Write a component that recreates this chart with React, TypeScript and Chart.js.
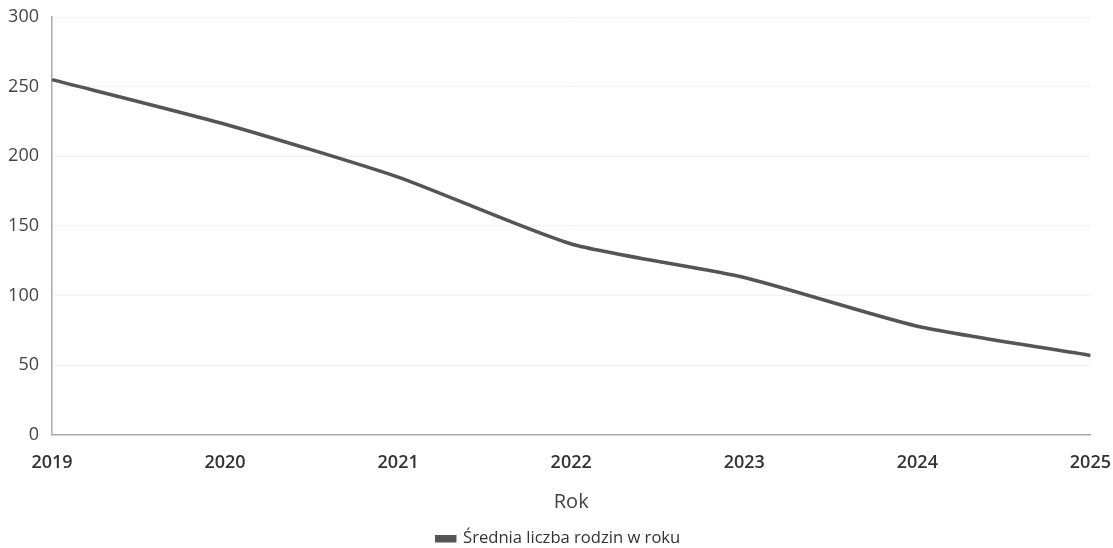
import React, { useEffect, useRef } from "react";
import { Chart, registerables } from "chart.js";

Chart.register(...registerables);

const years = ["2019", "2020", "2021", "2022", "2023", "2024", "2025"];
const averageFamilies = [255, 223, 185, 137, 113, 78, 57];
const seriesLabel = "Średnia liczba rodzin w roku";
const xTitle = "Rok";
const yMin = 0;
const yMax = 300;
const yStep = 50;

const FONT = "'Open Sans', sans-serif";

export default function App() {
  const ref = useRef<HTMLCanvasElement | null>(null);

  useEffect(() => {
    document.body.style.margin = "0";
    const canvas = ref.current;
    if (!canvas) return;
    const chart = new Chart(canvas, {
      type: "line",
      data: {
        labels: years,
        datasets: [
          {
            label: seriesLabel,
            data: averageFamilies,
            borderColor: "#555555",
            backgroundColor: "#555555",
            borderWidth: 3.5,
            pointRadius: 0,
            tension: 0.2,
            fill: false,
          },
        ],
      },
      options: {
        animation: false,
        responsive: false,
        maintainAspectRatio: false,
        layout: { padding: { left: 4, right: 0, top: 17, bottom: -9 } },
        plugins: {
          legend: {
            position: "bottom",
            labels: {
              color: "#333",
              font: { family: FONT, size: 16.6 },
              boxWidth: 18,
              boxHeight: 4,
              padding: 3,
            },
          },
          tooltip: { enabled: false },
        },
        scales: {
          x: {
            offset: false,
            grid: {
              display: true,
              drawOnChartArea: false,
              drawTicks: true,
              tickLength: 15,
              tickColor: "rgba(0,0,0,0)",
              color: "rgba(0,0,0,0)",
            },
            border: { display: true, color: "#aaa", width: 1.5 },
            ticks: {
              color: "#333",
              font: { family: FONT, size: 18, weight: "600" },
              padding: 2,
              maxRotation: 0,
              autoSkip: false,
            },
            title: {
              display: true,
              text: xTitle,
              color: "#444",
              font: { family: FONT, size: 20 },
              padding: { top: 15, bottom: 13 },
            },
          },
          y: {
            min: yMin,
            max: yMax,
            grid: { color: "#f1f1f1", drawTicks: false },
            border: { display: true, color: "#aaa", width: 1.5 },
            ticks: {
              stepSize: yStep,
              color: "#444",
              font: { family: FONT, size: 18 },
              padding: 13,
            },
            afterFit: (scale: any) => {
              scale.width = 48;
              scale.paddingTop = 0;
            },
          },
        },
      },
    });
    return () => chart.destroy();
  }, []);

  return (
    <div style={{ width: 1113, height: 548 }}>
      <canvas ref={ref} width={1113} height={548} style={{ display: "block" }} />
    </div>
  );
}
